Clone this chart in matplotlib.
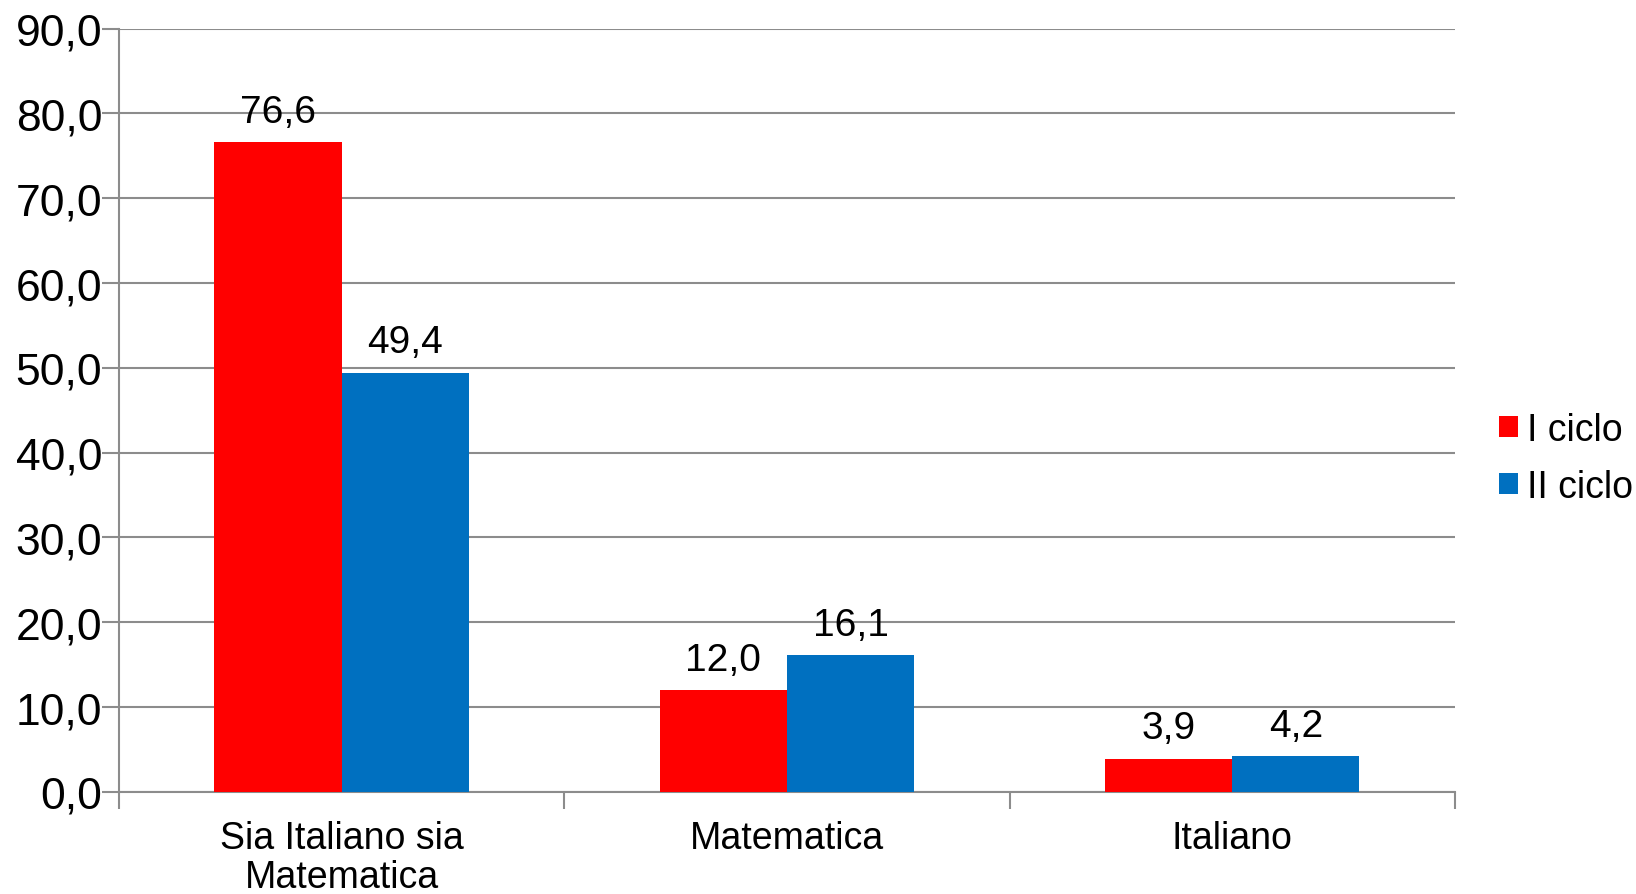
import matplotlib
matplotlib.use("agg")
import matplotlib.pyplot as plt
import numpy as np

plt.rcParams['font.family'] = ['Liberation Sans', 'DejaVu Sans']

categories = ["Sia Italiano sia\nMatematica", "Matematica", "Italiano"]
series_names = ["I ciclo", "II ciclo"]
primo_ciclo = [76.6, 12.0, 3.9]
secondo_ciclo = [49.4, 16.1, 4.2]
colors = ["#FF0000", "#0070C0"]


def fmt(v):
    return ("%.1f" % v).replace(".", ",")


fig = plt.figure(figsize=(16.36, 8.95), dpi=100)
ax = fig.add_axes([0.0727, 0.114, 0.8166, 0.853])

x = np.arange(len(categories))
w = 1 / 3.5
for i, (vals, name) in enumerate(zip([primo_ciclo, secondo_ciclo], series_names)):
    pos = x - w / 2 + i * w
    bars = ax.bar(pos, vals, width=w, color=colors[i], label=name, zorder=3)
    for b, v in zip(bars, vals):
        ax.annotate(fmt(v), (b.get_x() + b.get_width() / 2, v),
                    xytext=(0, 9), textcoords="offset points",
                    ha="center", va="bottom", fontsize=28)

ax.set_xlim(-0.5, 2.5)
ax.set_ylim(0, 90)
ax.set_yticks(np.arange(0, 91, 10))
ax.set_yticklabels([fmt(t) for t in np.arange(0, 91, 10)], fontsize=32)
ax.yaxis.grid(True, color="#8c8c8c", linewidth=1.5, zorder=0)

ax.set_xticks(x)
ax.set_xticklabels(categories, fontsize=27, linespacing=1.1)
ax.set_xticks([-0.5, 0.5, 1.5, 2.5], minor=True)
ax.tick_params(axis="x", which="major", length=0, pad=20)
ax.tick_params(axis="x", which="minor", length=12, width=1.5, color="#8c8c8c")
ax.tick_params(axis="y", length=12, width=1.5, color="#8c8c8c", pad=0)

for side in ["top", "right"]:
    ax.spines[side].set_visible(False)
for side in ["left", "bottom"]:
    ax.spines[side].set_color("#8c8c8c")
    ax.spines[side].set_linewidth(1.5)

ax.legend(loc="center left", bbox_to_anchor=(1.033, 0.437), frameon=False,
          fontsize=27, handlelength=0.5, handleheight=0.5, handletextpad=0.25,
          labelspacing=0.55, borderaxespad=0, borderpad=0)

fig.savefig("out.png", dpi=100)
